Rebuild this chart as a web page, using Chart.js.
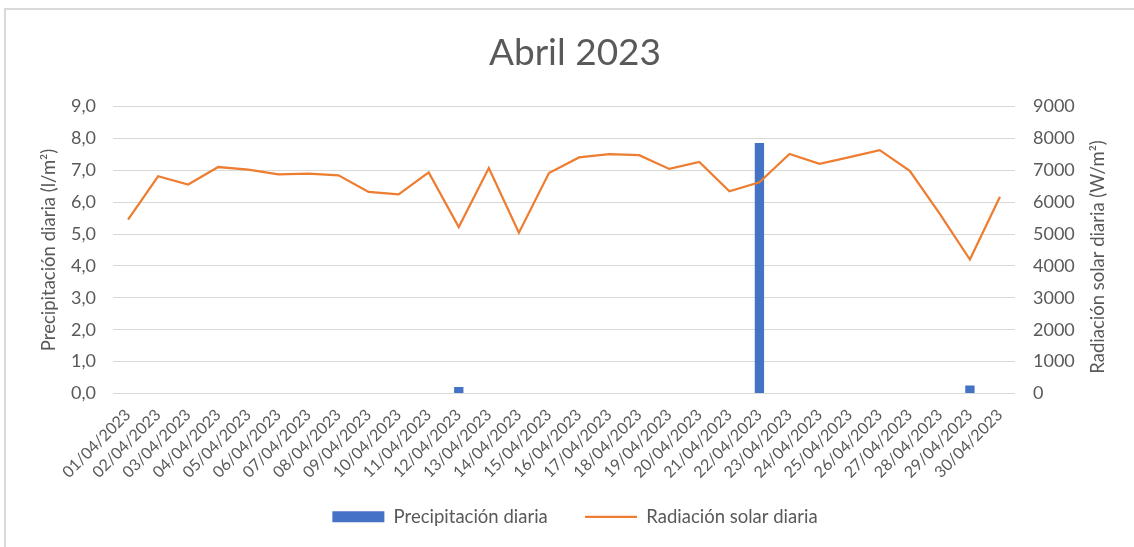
<!DOCTYPE html>
<html>
<head>
<meta charset="utf-8">
<script src="https://cdn.jsdelivr.net/npm/chart.js@4/dist/chart.umd.min.js"></script>
<style>
  html, body { margin: 0; padding: 0; background: #fff; }
  #wrap { position: relative; width: 1134px; height: 547px; }
  #frame {
    position: absolute; left: 4px; top: 8px; right: -10px; bottom: -10px;
    border-top: 2px solid #d9d9d9; border-left: 2px solid #d9d9d9;
    pointer-events: none;
  }
</style>
</head>
<body>
<div id="wrap">
  <canvas id="chart" width="1134" height="547"></canvas>
  <div id="frame"></div>
</div>
<script>
// Data
const days = [
  '01/04/2023', '02/04/2023', '03/04/2023', '04/04/2023', '05/04/2023',
  '06/04/2023', '07/04/2023', '08/04/2023', '09/04/2023', '10/04/2023',
  '11/04/2023', '12/04/2023', '13/04/2023', '14/04/2023', '15/04/2023',
  '16/04/2023', '17/04/2023', '18/04/2023', '19/04/2023', '20/04/2023',
  '21/04/2023', '22/04/2023', '23/04/2023', '24/04/2023', '25/04/2023',
  '26/04/2023', '27/04/2023', '28/04/2023', '29/04/2023', '30/04/2023'
];

// Precipitación diaria (l/m²)
const precipitation = [
  0, 0, 0, 0, 0, 0, 0, 0, 0, 0,
  0, 0.2, 0, 0, 0, 0, 0, 0, 0, 0,
  0, 7.85, 0, 0, 0, 0, 0, 0, 0.25, 0
];

// Radiación solar diaria (W/m²)
const radiation = [
  5450, 6810, 6550, 7100, 7020, 6870, 6890, 6840, 6320, 6240,
  6930, 5220, 7070, 5040, 6910, 7400, 7500, 7470, 7040, 7260,
  6340, 6620, 7510, 7200, 7410, 7630, 6980, 5630, 4200, 6170
];

const textColor = '#595959';
const gridColor = '#d9d9d9';
const fontFamily = 'Lato, "Open Sans", sans-serif';
const rightTitle = 'Radiación solar diaria (W/m²)';

// Chart.js turns right-hand axis titles the other way, so draw this one by hand
const rightTitlePlugin = {
  id: 'rightTitle',
  afterDraw(chart) {
    const c = chart.ctx;
    c.save();
    c.translate(1098, 257);
    c.rotate(-Math.PI / 2);
    c.fillStyle = textColor;
    c.font = '18.5px ' + fontFamily;
    c.textAlign = 'center';
    c.textBaseline = 'middle';
    c.fillText(rightTitle, 0, 0);
    c.restore();
  }
};

// default legend items, with a bit more room after the first one
function legendLabels(chart) {
  const items = Chart.defaults.plugins.legend.labels.generateLabels(chart);
  items.forEach(item => {
    if (item.datasetIndex === 0) item.text += '\u2002';
  });
  return items;
}

const ctx = document.getElementById('chart').getContext('2d');

const chart = new Chart(ctx, {
  type: 'bar',
  data: {
    labels: days,
    datasets: [
      {
        type: 'bar',
        label: 'Precipitación diaria',
        data: precipitation,
        backgroundColor: '#4472c4',
        borderWidth: 0,
        barPercentage: 0.31,
        categoryPercentage: 1,
        yAxisID: 'y',
        order: 1,
        pointStyle: 'rect'
      },
      {
        type: 'line',
        label: 'Radiación solar diaria',
        data: radiation,
        borderColor: '#ed7d31',
        backgroundColor: '#ed7d31',
        borderWidth: 2.25,
        tension: 0,
        pointRadius: 0,
        pointHoverRadius: 0,
        yAxisID: 'y1',
        order: 0,
        pointStyle: 'line'
      }
    ]
  },
  options: {
    responsive: false,
    animation: false,
    layout: {
      padding: { top: 0, bottom: 11, left: 16, right: 0 }
    },
    plugins: {
      title: {
        display: true,
        text: 'Abril 2023',
        color: textColor,
        font: { family: fontFamily, size: 37, weight: 'normal' },
        padding: { top: 31, bottom: 31 }
      },
      legend: {
        position: 'bottom',
        labels: {
          color: textColor,
          font: { family: fontFamily, size: 18.5 },
          usePointStyle: true,
          pointStyleWidth: 52,
          boxHeight: 11,
          padding: 28,
          generateLabels: legendLabels,
          sort: (a, b) => a.datasetIndex - b.datasetIndex
        }
      },
      tooltip: { enabled: false }
    },
    scales: {
      x: {
        grid: { display: false },
        border: { display: false },
        ticks: {
          color: textColor,
          font: { family: fontFamily, size: 16 },
          maxRotation: 45,
          minRotation: 45,
          autoSkip: false,
          padding: 4
        },
        afterFit: (scale) => { scale.height = 86; }
      },
      y: {
        position: 'left',
        min: 0,
        max: 9,
        grid: { color: gridColor, lineWidth: 1, drawTicks: false },
        border: { display: false },
        ticks: {
          stepSize: 1,
          color: textColor,
          font: { family: fontFamily, size: 18 },
          padding: 17,
          callback: (v) => v.toFixed(1).replace('.', ',')
        },
        title: {
          display: true,
          text: 'Precipitación diaria (l/m²)',
          color: textColor,
          font: { family: fontFamily, size: 18.5 },
          padding: { top: 22, bottom: 0 }
        },
        afterFit: (scale) => { scale.width = 97; }
      },
      y1: {
        position: 'right',
        min: 0,
        max: 9000,
        grid: { display: false, drawTicks: false },
        border: { display: false },
        ticks: {
          stepSize: 1000,
          color: textColor,
          font: { family: fontFamily, size: 18 },
          padding: 18,
          callback: (v) => String(v)
        },
        afterFit: (scale) => { scale.width = 119; }
      }
    }
  },
  plugins: [rightTitlePlugin]
});
</script>
</body>
</html>
